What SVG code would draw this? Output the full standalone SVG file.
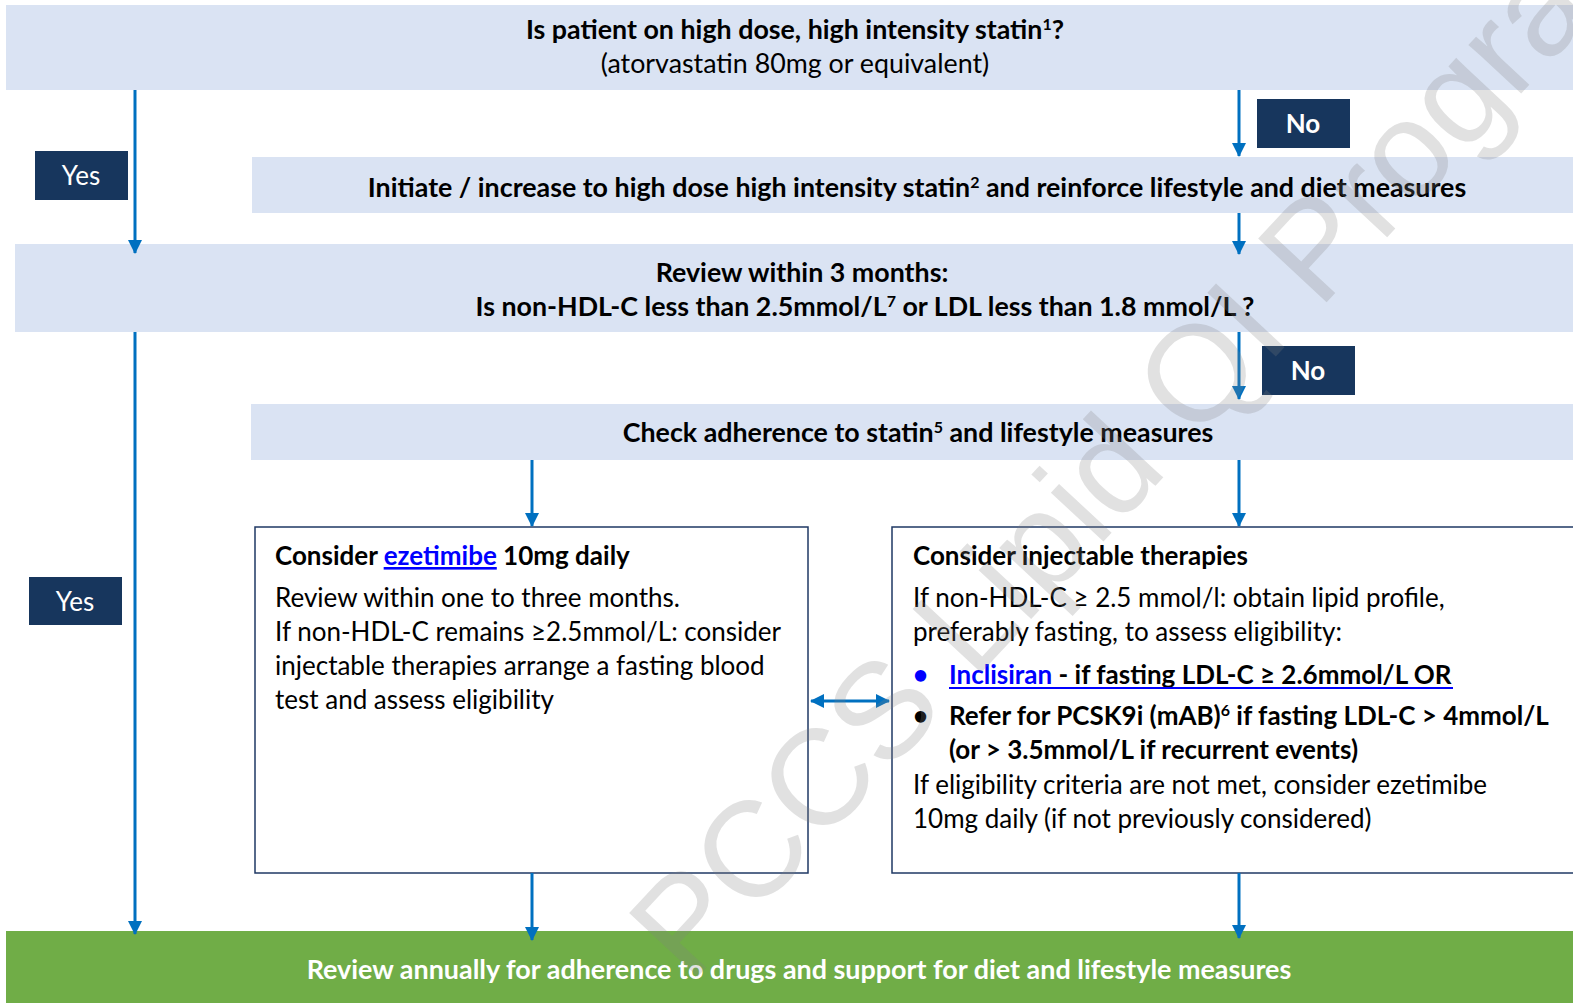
<svg xmlns="http://www.w3.org/2000/svg" width="1573" height="1003" viewBox="0 0 1573 1003">
<style>
.band{fill:#dae3f3}
.lbl{fill:#17365d}
.box{fill:#ffffff;stroke:#1f3864;stroke-width:1.5}
.green{fill:#70ad47}
text{font-family:Lato,"Open Sans","Liberation Sans",sans-serif;font-size:26px;fill:#000}
.h{font-size:26.8px}
.g{font-size:26.9px}
.b{font-weight:bold}
.c{text-anchor:middle}
.w{fill:#ffffff}
.link{fill:#0000ff}
.conn{stroke:#0070c0;stroke-width:3;fill:none}
.wm{font-family:"Liberation Sans",Arial,sans-serif;font-size:136px;fill:#808080;fill-opacity:0.24}
</style>
<defs>
<marker id="ah" markerUnits="userSpaceOnUse" markerWidth="14" markerHeight="16" refX="13" refY="7" orient="auto-start-reverse" viewBox="0 0 14 14">
<path d="M0,0 L14,7 L0,14 z" fill="#0070c0"/>
</marker>
</defs>
<rect width="1573" height="1003" fill="#ffffff"/>

<g id="q1">
<rect class="band" x="6" y="5" width="1567" height="85"/>
<text class="b c h" x="795" y="39">Is patient on high dose, high intensity statin<tspan font-size="16" baseline-shift="super">1</tspan>?</text>
<text class="c h" x="795" y="73">(atorvastatin 80mg or equivalent)</text>
</g>

<g id="yes1">
<rect class="lbl" x="35" y="151" width="93" height="49"/>
<text class="c w" x="81" y="185">Yes</text>
</g>

<g id="no1">
<rect class="lbl" x="1257" y="99" width="93" height="49"/>
<text class="b c w" x="1303" y="133">No</text>
</g>

<g id="initiate">
<rect class="band" x="252" y="157" width="1321" height="56"/>
<text class="b c h" x="917" y="197">Initiate / increase to high dose high intensity statin<tspan font-size="16" baseline-shift="super">2</tspan> and reinforce lifestyle and diet measures</text>
</g>

<g id="review3">
<rect class="band" x="15" y="244" width="1558" height="88"/>
<text class="b c h" x="802" y="282">Review within 3 months:</text>
<text class="b c h" x="865" y="316">Is non-HDL-C less than 2.5mmol/L<tspan font-size="16" baseline-shift="super">7</tspan> or LDL  less than 1.8 mmol/L ?</text>
</g>

<g id="yes2">
<rect class="lbl" x="29" y="577" width="93" height="48"/>
<text class="c w" x="75" y="611">Yes</text>
</g>

<g id="no2">
<rect class="lbl" x="1262" y="346" width="93" height="49"/>
<text class="b c w" x="1308" y="380">No</text>
</g>

<g id="adherence">
<rect class="band" x="251" y="404" width="1322" height="56"/>
<text class="b c h" x="918" y="442">Check adherence to statin<tspan font-size="16" baseline-shift="super">5</tspan> and lifestyle measures</text>
</g>

<g id="ezetimibe">
<rect class="box" x="255" y="527" width="553" height="346"/>
<text class="b" x="275" y="565">Consider <tspan class="link" text-decoration="underline">ezetimibe</tspan> 10mg daily</text>
<text x="275" y="607">Review within one to three months.</text>
<text x="275" y="641">If non-HDL-C remains ≥2.5mmol/L: consider</text>
<text x="275" y="675">injectable therapies arrange a fasting blood</text>
<text x="275" y="709">test and assess eligibility</text>
</g>

<g id="injectable">
<rect class="box" x="892" y="527" width="690" height="346"/>
<text class="b" x="913" y="565">Consider injectable therapies</text>
<text x="913" y="607">If non-HDL-C ≥ 2.5 mmol/l: obtain lipid profile,</text>
<text x="913" y="641">preferably fasting, to assess eligibility:</text>
<text class="b link" x="913" y="684">•</text>
<text class="b" x="949" y="684"><tspan class="link">Inclisiran </tspan>- if fasting LDL-C ≥ 2.6mmol/L  OR</text>
<line x1="949" y1="688" x2="1453" y2="688" stroke="#0000ff" stroke-width="2"/>
<text class="b" x="913" y="725">•</text>
<text class="b" x="949" y="725">Refer for PCSK9i (mAB)<tspan font-size="16" baseline-shift="super">6</tspan> if fasting LDL-C &gt; 4mmol/L</text>
<text class="b" x="949" y="759">(or &gt; 3.5mmol/L if recurrent events)</text>
<text x="913" y="794">If eligibility criteria are not met, consider ezetimibe</text>
<text x="913" y="828">10mg daily (if not previously considered)</text>
</g>

<g id="annual">
<rect class="green" x="6" y="931" width="1567" height="72"/>
<text class="b c w g" x="799" y="979">Review annually for adherence to drugs and support for diet and lifestyle measures</text>
</g>

<g id="connectors">
<line class="conn" x1="135" y1="90" x2="135" y2="253" marker-end="url(#ah)"/>
<line class="conn" x1="1239" y1="90" x2="1239" y2="156" marker-end="url(#ah)"/>
<line class="conn" x1="1239" y1="213" x2="1239" y2="254" marker-end="url(#ah)"/>
<line class="conn" x1="135" y1="332" x2="135" y2="934" marker-end="url(#ah)"/>
<line class="conn" x1="1239" y1="332" x2="1239" y2="399" marker-end="url(#ah)"/>
<line class="conn" x1="532" y1="460" x2="532" y2="526" marker-end="url(#ah)"/>
<line class="conn" x1="1239" y1="460" x2="1239" y2="526" marker-end="url(#ah)"/>
<line class="conn" x1="811" y1="701" x2="889" y2="701" marker-start="url(#ah)" marker-end="url(#ah)"/>
<line class="conn" x1="532" y1="873" x2="532" y2="940" marker-end="url(#ah)"/>
<line class="conn" x1="1239" y1="873" x2="1239" y2="938" marker-end="url(#ah)"/>
</g>

<text class="wm" transform="translate(690,985) rotate(-47)">PCCS Lipid QI Program</text>
</svg>
